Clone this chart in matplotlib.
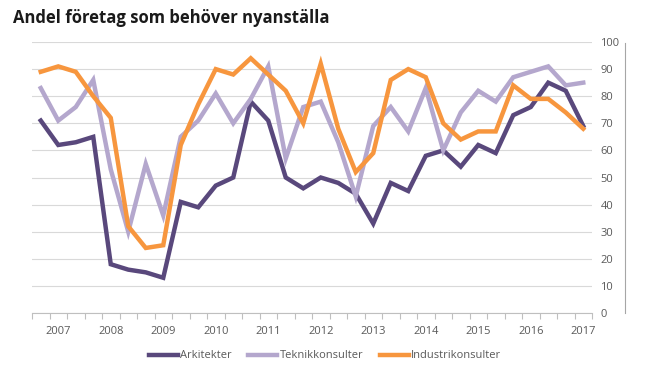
import numpy as np
import matplotlib.pyplot as plt
from matplotlib.lines import Line2D

# tertial survey data, 2007 - 2017
arkitekter = [71, 62, 63, 65, 18, 16, 15, 13, 41, 39, 47, 50, 78, 71, 50, 46,
              50, 48, 44, 33, 48, 45, 58, 60, 54, 62, 59, 73, 76, 85, 82, 69]
teknik = [83, 71, 76, 86, 53, 30, 55, 36, 65, 71, 81, 70, 79, 91, 57, 76,
          78, 63, 43, 69, 76, 67, 83, 60, 74, 82, 78, 87, 89, 91, 84, 85]
industri = [89, 91, 89, 80, 72, 32, 24, 25, 62, 77, 90, 88, 94, 88, 82, 70,
            92, 68, 52, 59, 86, 90, 87, 70, 64, 67, 67, 84, 79, 79, 74, 68]
years = [str(y) for y in range(2007, 2018)]

series = [("Arkitekter", arkitekter, "#59487c"),
          ("Teknikkonsulter", teknik, "#b4a7cd"),
          ("Industrikonsulter", industri, "#f7963e")]

plt.rcParams['font.family'] = ['Open Sans', 'DejaVu Sans']

fig = plt.figure(figsize=(6.57, 3.75), dpi=100)
ax = fig.add_axes([32/657, 1 - 313/375, 560/657, 271/375])

x = np.arange(len(arkitekter))
for name, vals, col in series:
    ax.plot(x, vals, color=col, lw=3.2, label=name, solid_joinstyle='miter')

ax.set_xlim(-0.5, len(x) - 0.5)
ax.set_ylim(0, 100)
ax.yaxis.tick_right()
ax.set_yticks(range(0, 101, 10))
ax.tick_params(axis='y', length=0, pad=6, labelsize=8, labelcolor='#595959')
ax.grid(axis='y', color='#d9d9d9', lw=0.8)
ax.set_axisbelow(True)

# minor ticks between categories, year labels under middle category
ax.set_xticks(np.arange(-0.5, len(x), 1), minor=True)
ax.set_xticks(np.arange(1, len(x), 3))
ax.set_xticklabels(years)
ax.tick_params(axis='x', which='major', length=0, pad=9, labelsize=8, labelcolor='#595959')
ax.tick_params(axis='x', which='minor', length=4, color='#bfbfbf', width=0.8)
for s in ['top', 'right', 'left']:
    ax.spines[s].set_visible(False)
ax.spines['bottom'].set_color('#bfbfbf')
ax.spines['bottom'].set_linewidth(0.8)

fig.add_artist(Line2D([625/657, 625/657], [1 - 313/375, 1 - 43/375],
                      color='#a6a6a6', lw=0.8))

fig.text(13/657, 1 - 18/375, "Andel företag som behöver nyanställa",
         fontsize=12, fontweight='bold', va='center', color='#1a1a1a')

fig.legend(loc='center', bbox_to_anchor=(325/657, 1 - 356/375), ncol=3,
           frameon=False, fontsize=8, handlelength=2.6, handletextpad=0.2,
           columnspacing=1.5, labelcolor='#595959')

fig.savefig("out.png", dpi=100)
